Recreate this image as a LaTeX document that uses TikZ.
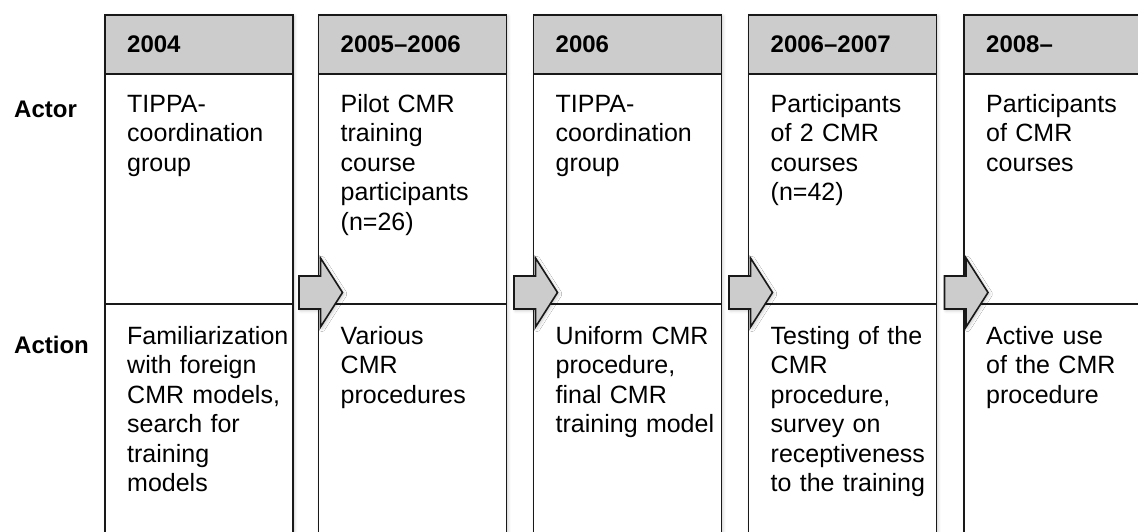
\documentclass[tikz,border=0pt]{standalone}
\usepackage{fontspec}
\setmainfont{Liberation Sans}
\usetikzlibrary{shadows.blur}
\begin{document}
\begin{tikzpicture}[x=1pt,y=-1pt,
  frame/.style={draw=black!90, line width=1.6pt},
  softshadow/.style={blur shadow={shadow xshift=1.5pt, shadow yshift=-1.5pt,
      shadow blur radius=3pt, shadow opacity=22}},
  colbox/.style={frame, fill=white, anchor=north west, minimum width=188pt,
      minimum height=540pt, inner sep=0pt, softshadow},
  headbox/.style={frame, fill=gray!40, anchor=north west, minimum width=188pt,
      minimum height=59pt, inner sep=0pt},
  headtext/.style={anchor=base west, inner sep=0pt,
      font=\fontsize{24}{29.5}\selectfont\bfseries},
  celltext/.style={anchor=base west, inner sep=0pt, align=left, text width=180pt,
      font=\fontsize{25}{29.5}\selectfont},
  rowlabel/.style={anchor=base west, inner sep=0pt,
      font=\fontsize{24}{29.5}\selectfont\bfseries},
  blockarrow/.style={frame, fill=gray!40, line join=miter, softshadow},
]
\useasboundingbox (0,0) rectangle (1138,531);
\clip (0,0) rectangle (1138,531);

% row labels
\node[rowlabel] (actor)  at (14,117) {Actor};
\node[rowlabel] (action) at (14,353) {Action};

% column 1
\node[colbox]  (c1) at (104,14) {};
\node[headbox] (h1) at (104,14) {};
\coordinate (d1) at (104,304);
\draw[frame] (d1) -- (c1.east |- d1);
\node[headtext] (y1) at (127,52) {2004};
\node[celltext] (p1) at (127,112) {TIPPA-\\coordination\\group};
\node[celltext] (q1) at (127,344) {Familiarization\\with foreign\\CMR models,\\search for\\training\\models};

% column 2
\node[colbox]  (c2) at (317.5,14) {};
\node[headbox] (h2) at (317.5,14) {};
\coordinate (d2) at (317.5,304);
\draw[frame] (d2) -- (c2.east |- d2);
\node[headtext] (y2) at (340.5,52) {2005–2006};
\node[celltext] (p2) at (340.5,112) {Pilot CMR\\training\\course\\participants\\(n=26)};
\node[celltext] (q2) at (340.5,344) {Various\\CMR\\procedures};

% column 3
\node[colbox]  (c3) at (532.5,14) {};
\node[headbox] (h3) at (532.5,14) {};
\coordinate (d3) at (532.5,304);
\draw[frame] (d3) -- (c3.east |- d3);
\node[headtext] (y3) at (555.5,52) {2006};
\node[celltext] (p3) at (555.5,112) {TIPPA-\\coordination\\group};
\node[celltext] (q3) at (555.5,344) {Uniform CMR\\procedure,\\final CMR\\training model};

% column 4
\node[colbox]  (c4) at (747.5,14) {};
\node[headbox] (h4) at (747.5,14) {};
\coordinate (d4) at (747.5,304);
\draw[frame] (d4) -- (c4.east |- d4);
\node[headtext] (y4) at (770.5,52) {2006–2007};
\node[celltext] (p4) at (770.5,112) {Participants\\of 2 CMR\\courses\\(n=42)};
\node[celltext] (q4) at (770.5,344) {Testing of the\\CMR\\procedure,\\survey on\\receptiveness\\to the training};

% column 5
\node[colbox]  (c5) at (963,14) {};
\node[headbox] (h5) at (963,14) {};
\coordinate (d5) at (963,304);
\draw[frame] (d5) -- (c5.east |- d5);
\node[headtext] (y5) at (986,52) {2008–};
\node[celltext] (p5) at (986,112) {Participants\\of CMR\\courses};
\node[celltext] (q5) at (986,344) {Active use\\of the CMR\\procedure};

% block arrows leading into each following column
\foreach \k in {2,...,5} {
  \coordinate (a\k) at (c\k.west |- 0,292.5);
  \draw[blockarrow] (a\k) ++(-18.5,-16.5) -- ++(21.5,0) -- ++(0,-18)
      -- ++(22,34.5) -- ++(-22,34.5) -- ++(0,-18) -- ++(-21.5,0) -- cycle;
}
\end{tikzpicture}
\end{document}
